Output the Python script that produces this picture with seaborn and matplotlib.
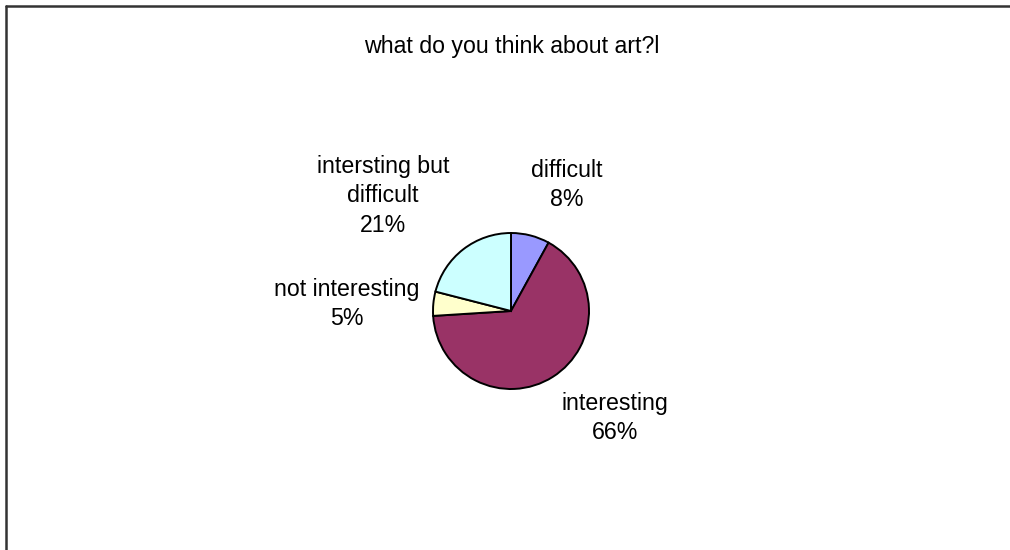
import matplotlib
matplotlib.use("Agg")
import matplotlib.pyplot as plt
import seaborn as sns

# ==========================================
# Data
# ==========================================

title = "what do you think about art?l"
categories = ["difficult", "interesting", "not interesting", "intersting but\ndifficult"]
shares = [8, 66, 5, 21]
colors = ["#9999FF", "#993366", "#FFFFCC", "#CCFFFF"]

# ==========================================
# Style
# ==========================================

sns.set_theme(style="white")
plt.rcParams["font.family"] = ["Liberation Sans", "DejaVu Sans"]
palette = sns.color_palette(colors)

W, H = 1010, 550
fig = plt.figure(figsize=(W / 100, H / 100), dpi=100)
ax = fig.add_axes([0, 0, 1, 1])

# pie in pixel space (y measured from the bottom)
cx, cy, r = 511, H - 311, 78
ax.pie(
    shares, colors=palette, startangle=90, counterclock=False,
    center=(cx, cy), radius=r, frame=True,
    wedgeprops=dict(edgecolor="black", linewidth=1.4),
)
ax.set_xlim(0, W)
ax.set_ylim(0, H)
ax.axis("off")

# outside labels
label_pos = [(567, 185), (615, 418), (347, 304), (383, 196)]
for name, val, (x, y) in zip(categories, shares, label_pos):
    ax.text(x, H - y, f"{name}\n{val}%", ha="center", va="center",
            fontsize=16.7, linespacing=1.35, color="black")

ax.text(512, H - 47, title, ha="center", va="center", fontsize=16.7, color="black")

# chart frame (top and left edges visible)
ax.plot([6, W], [H - 6, H - 6], color="#333333", linewidth=1.8, clip_on=False)
ax.plot([6, 6], [H - 6, 0], color="#333333", linewidth=1.8, clip_on=False)

fig.savefig("out.png", dpi=100)
